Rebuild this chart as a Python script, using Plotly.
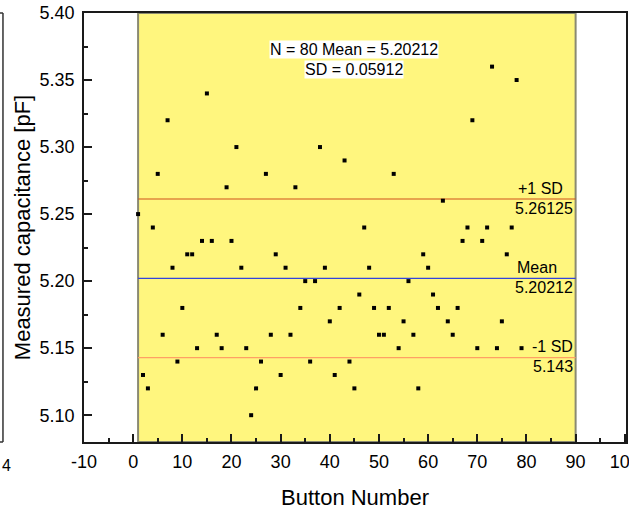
import plotly.graph_objects as go

# ---- data ----
button_number = list(range(1, 81))
capacitance = [
    5.25, 5.13, 5.12, 5.24, 5.28, 5.16, 5.32, 5.21, 5.14, 5.18,
    5.22, 5.22, 5.15, 5.23, 5.34, 5.23, 5.16, 5.15, 5.27, 5.23,
    5.30, 5.21, 5.15, 5.10, 5.12, 5.14, 5.28, 5.16, 5.22, 5.13,
    5.21, 5.16, 5.27, 5.18, 5.20, 5.14, 5.20, 5.30, 5.21, 5.17,
    5.13, 5.18, 5.29, 5.14, 5.12, 5.19, 5.24, 5.21, 5.18, 5.16,
    5.16, 5.18, 5.28, 5.15, 5.17, 5.20, 5.16, 5.12, 5.22, 5.21,
    5.19, 5.18, 5.26, 5.17, 5.16, 5.18, 5.23, 5.24, 5.32, 5.15,
    5.23, 5.24, 5.36, 5.15, 5.17, 5.22, 5.24, 5.35, 5.15, 5.21,
]
n_count = 80
mean_val = 5.20212
sd_val = 0.05912
plus_sd = 5.26125
minus_sd = 5.143
band_x = [1, 90]
x_range = [-10, 100.25]
y_range = [5.08, 5.40]
x_ticks = [-10, 0, 10, 20, 30, 40, 50, 60, 70, 80, 90, 100]
y_ticks = [5.10, 5.15, 5.20, 5.25, 5.30, 5.35, 5.40]

FONT = "Liberation Sans, Arial, sans-serif"
YELLOW = "#FFF67E"

fig = go.Figure()

fig.add_trace(go.Scatter(
    x=button_number, y=capacitance, mode="markers",
    marker=dict(symbol="square", size=4, color="black", line=dict(width=0)),
    showlegend=False, hoverinfo="x+y",
))

shapes = [
    dict(type="rect", xref="x", yref="paper", x0=band_x[0], x1=band_x[1], y0=0, y1=1,
         fillcolor=YELLOW, line=dict(color="#8a8a72", width=2), layer="below"),
    dict(type="line", xref="x", yref="y", x0=band_x[0], x1=band_x[1], y0=plus_sd, y1=plus_sd,
         line=dict(color="#D0501C", width=1.2), layer="below"),
    dict(type="line", xref="x", yref="y", x0=band_x[0], x1=band_x[1], y0=mean_val, y1=mean_val,
         line=dict(color="#3344DD", width=1.2), layer="below"),
    dict(type="line", xref="x", yref="y", x0=band_x[0], x1=band_x[1], y0=minus_sd, y1=minus_sd,
         line=dict(color="#FFA064", width=1.2), layer="below"),
    # edge of the neighbouring panel at far left
    dict(type="line", xref="paper", yref="paper", x0=-0.1495, x1=-0.1495, y0=0, y1=1,
         line=dict(color="#333333", width=1.5)),
    dict(type="line", xref="paper", yref="paper", x0=-0.16, x1=-0.1495, y0=1, y1=1,
         line=dict(color="#333333", width=1.5)),
    dict(type="line", xref="paper", yref="paper", x0=-0.16, x1=-0.1495, y0=0, y1=0,
         line=dict(color="#333333", width=1.5)),
]

ann_font = dict(family=FONT, size=16, color="black")
annotations = [
    dict(x=44.9, y=5.3731, xref="x", yref="y", text=f"N = {n_count} Mean = {mean_val:.5f}",
         showarrow=False, font=ann_font, bgcolor="white", borderpad=0, xanchor="center", yanchor="middle"),
    dict(x=44.9, y=5.3575, xref="x", yref="y", text=f"SD = {sd_val:.5f}",
         showarrow=False, font=ann_font, bgcolor="white", borderpad=0, xanchor="center", yanchor="middle"),
    dict(x=77.9, y=plus_sd, xref="x", yref="y", text="+1 SD", showarrow=False, font=ann_font,
         xanchor="left", yanchor="middle", yshift=11),
    dict(x=89.9, y=plus_sd, xref="x", yref="y", text=f"{plus_sd:.5f}", showarrow=False, font=ann_font,
         xanchor="right", yanchor="middle", yshift=-9),
    dict(x=77.9, y=mean_val, xref="x", yref="y", text="Mean", showarrow=False, font=ann_font,
         xanchor="left", yanchor="middle", yshift=11, bgcolor=YELLOW, borderpad=0),
    dict(x=89.9, y=mean_val, xref="x", yref="y", text=f"{mean_val:.5f}", showarrow=False, font=ann_font,
         xanchor="right", yanchor="middle", yshift=-9),
    dict(x=89.9, y=minus_sd, xref="x", yref="y", text="-1 SD", showarrow=False, font=ann_font,
         xanchor="right", yanchor="middle", yshift=11),
    dict(x=89.9, y=minus_sd, xref="x", yref="y", text=f"{minus_sd:.3f}", showarrow=False, font=ann_font,
         xanchor="right", yanchor="middle", yshift=-9),
    dict(x=-0.1545, y=-0.055, xref="paper", yref="paper", text="4", showarrow=False,
         font=dict(family=FONT, size=16, color="black"), xanchor="left", yanchor="middle"),
]

axis_common = dict(
    showline=True, linecolor="#1a1a1a", linewidth=1.5, mirror=True,
    ticks="inside", ticklen=8, tickwidth=1.5, tickcolor="#1a1a1a",
    showgrid=False, zeroline=False,
    tickfont=dict(family=FONT, size=18, color="black"),
    automargin=False, ticklabeloverflow="allow",
)

fig.update_layout(
    template="none",
    width=629, height=513,
    margin=dict(l=84, r=3, t=13, b=71),
    paper_bgcolor="white", plot_bgcolor="white",
    font=dict(family=FONT, color="black"),
    shapes=shapes, annotations=annotations,
    xaxis=dict(**axis_common, range=x_range, tickvals=x_ticks, ticktext=[str(v) for v in x_ticks],
               minor=dict(ticks="inside", ticklen=4, tickwidth=1.5, tickcolor="#1a1a1a", dtick=5),
               ticklabelstandoff=3,
               title=dict(text="Button Number", font=dict(family=FONT, size=22), standoff=18)),
    yaxis=dict(**axis_common, range=y_range, tickvals=y_ticks, ticktext=[f"{v:.2f}" for v in y_ticks],
               minor=dict(ticks="inside", ticklen=4, tickwidth=1.5, tickcolor="#1a1a1a", dtick=0.025, tick0=5.0),
               ticklabelstandoff=4,
               title=dict(text="Measured capacitance [pF]", font=dict(family=FONT, size=22), standoff=3)),
)

fig.write_html("out.html")
